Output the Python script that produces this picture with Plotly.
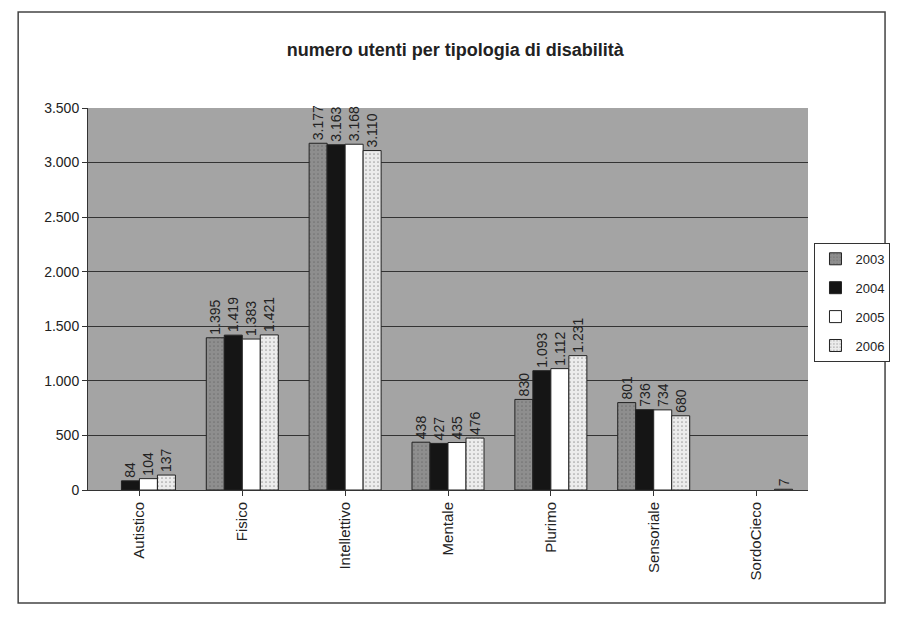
import plotly.graph_objects as go

categories = ["Autistico", "Fisico", "Intellettivo", "Mentale", "Plurimo", "Sensoriale", "SordoCieco"]
years = ["2003", "2004", "2005", "2006"]
v2003 = [None, 1395, 3177, 438, 830, 801, None]
v2004 = [84, 1419, 3163, 427, 1093, 736, None]
v2005 = [104, 1383, 3168, 435, 1112, 734, None]
v2006 = [137, 1421, 3110, 476, 1231, 680, 7]
y_ticks = [0, 500, 1000, 1500, 2000, 2500, 3000, 3500]

series = [v2003, v2004, v2005, v2006]
fills = ["#8e8e8e", "#151515", "#ffffff", "#ececec"]
patterns = [".", "", "", "."]

fig = go.Figure()
for name, vals, col, pat in zip(years, series, fills, patterns):
    fig.add_trace(go.Bar(
        x=categories, y=vals, name=name, legendgroup=name,
        marker=dict(color=col, line=dict(color="#222222", width=1),
                    pattern=dict(shape=pat, fgcolor="#555555", size=4, solidity=0.15) if pat else None),
        text=[("" if v is None else f"{v:,}".replace(",", ".")) for v in vals],
        textposition="outside", textangle=-90,
        textfont=dict(family="Arial, Liberation Sans, sans-serif", size=14, color="#222222"),
        cliponaxis=False,
    ))

fig.update_layout(
    width=898, height=623,
    barmode="group", bargap=0.3, bargroupgap=0,
    separators=",.",
    uniformtext=dict(minsize=14, mode="show"),
    paper_bgcolor="white", plot_bgcolor="#a4a4a4",
    margin=dict(l=80, r=98, t=100, b=141, autoexpand=False),
    title=dict(text="<b>numero utenti per tipologia di disabilità</b>", x=0.498, xanchor="center",
               y=0.933, yanchor="middle",
               font=dict(family="Arial, Liberation Sans, sans-serif", size=18, color="#222222")),
    font=dict(family="Arial, Liberation Sans, sans-serif", size=12, color="#222222"),
    legend=dict(x=1.009, y=0.647, xanchor="left", yanchor="top",
                bordercolor="#333333", borderwidth=1, bgcolor="white",
                font=dict(size=13), tracegroupgap=9),
    showlegend=True,
    shapes=[dict(type="rect", xref="paper", yref="paper", x0=-0.097, x1=1.107, y0=-0.296, y1=1.251,
                 line=dict(color="#444444", width=1.5))],
)
fig.update_xaxes(tickangle=-90, showline=True, linecolor="#333333", ticks="outside",
                 tickcolor="#333333", showgrid=False, automargin=False,
                 tickfont=dict(size=15))
fig.update_yaxes(range=[0, 3500], tickvals=y_ticks,
                 ticktext=[f"{t:,}".replace(",", ".") for t in y_ticks],
                 showline=True, linecolor="#333333", ticks="outside", tickcolor="#333333",
                 gridcolor="#333333", gridwidth=1, tickfont=dict(size=14), zeroline=False,
                 automargin=False)

fig.write_html("out.html")
